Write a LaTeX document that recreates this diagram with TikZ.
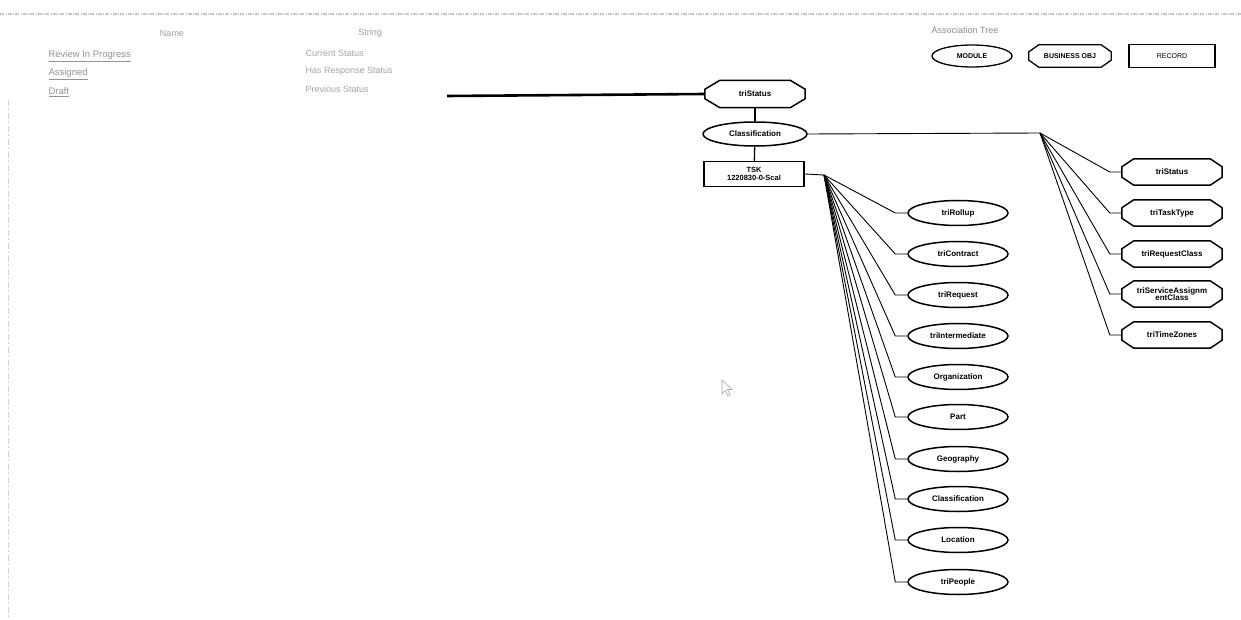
\documentclass[tikz,border=0pt]{standalone}
\usepackage{fontspec}
\setmainfont{Liberation Sans}
\usetikzlibrary{shapes.geometric}
\newcommand\octo[4][1.5pt]{\draw[line width=#1,line join=miter] ([xshift=#3]#2.north west) -- ([xshift=-#3]#2.north east) -- ([yshift=-#4]#2.north east) -- ([yshift=#4]#2.south east) -- ([xshift=-#3]#2.south east) -- ([xshift=#3]#2.south west) -- ([yshift=#4]#2.south west) -- ([yshift=-#4]#2.north west) -- cycle;}
\begin{document}
\begin{tikzpicture}[x=1pt,y=-1pt,
  every node/.style={font=\fontsize{8.5}{9}\selectfont},
  conn/.style={draw=black,line width=0.9pt},
  modnode/.style={ellipse,draw,line width=1.5pt,minimum width=100pt,minimum height=25pt,inner sep=1pt,font=\bfseries\fontsize{8}{8}\selectfont},
  bonode/.style={rectangle,minimum width=100pt,minimum height=26pt,inner sep=1pt,align=center,font=\bfseries\fontsize{8}{7.5}\selectfont},
  recnode/.style={rectangle,draw,line width=1.5pt,minimum width=100pt,minimum height=25pt,inner sep=1pt,align=center,font=\bfseries\fontsize{7.5}{8}\selectfont},
  hdr/.style={text=gray!75,anchor=center,font=\fontsize{9}{10}\selectfont},
  lnk/.style={text=gray!85,anchor=west,font=\fontsize{9.5}{10}\selectfont},
  str/.style={text=gray!70,anchor=west,font=\fontsize{9}{10}\selectfont}]
\useasboundingbox[fill=white] (0,0) rectangle (1241,620);
% page texture
\draw[gray!45,line width=2.2pt,dash pattern=on 4pt off 1.5pt on 1pt off 1pt] (0,14) -- (1241,14);
\draw[gray!35,line width=0.8pt,dash pattern=on 6pt off 2pt on 2pt off 3pt] (8,100) -- (8,620);
% table
\node[hdr] (hname) at (172,33) {Name};
\node[hdr] (hstr) at (370,33) {String};
\node[lnk] (l1) at (45,56) {\underline{Review In Progress}};
\node[lnk] (l2) at (45,74) {\underline{Assigned}};
\node[lnk] (l3) at (45,92) {\underline{Draft}};
\node[str] (s1) at (302,53) {Current Status};
\node[str] (s2) at (302,71) {Has Response Status};
\node[str] (s3) at (302,89) {Previous Status};
% legend
\node[hdr,text=gray!90] (atree) at (965,30) {Association Tree};
\node[modnode,minimum width=80pt,minimum height=22pt,line width=1.3pt,font=\bfseries\fontsize{7}{7}\selectfont] (lmod) at (972,56) {MODULE};
\node[bonode,minimum width=82pt,minimum height=22pt,font=\bfseries\fontsize{7}{7}\selectfont] (lbo) at (1070,56) {BUSINESS OBJ};
\octo[1.3pt]{lbo}{10pt}{7pt}
\node[recnode,minimum width=86pt,minimum height=23pt,line width=1.3pt,font=\fontsize{7}{7}\selectfont] (lrec) at (1172,56) {RECORD};
% main chain
\coordinate (lstart) at (447,96);
\node[bonode,minimum height=27pt] (ts) at (755,94) {triStatus};
\octo{ts}{15pt}{9pt}
\node[modnode,minimum width=104pt,minimum height=24pt] (cls) at (755,134) {Classification};
\node[recnode] (tsk) at (754,174) {TSK\\1220830-0-Scal};
\draw[line width=2.6pt] (lstart) -- (ts.west);
\draw[conn,line width=1.3pt] (ts) -- (cls);
\draw[conn,line width=1.3pt] (cls) -- (tsk);
% right fan
\coordinate (c1) at (1040,133);
\draw[conn] (cls.east) -- (c1);
\foreach \n/\y/\t in {r1/172/triStatus,r2/213/triTaskType,r3/254/triRequestClass,r4/294/{triServiceAssignm\\entClass},r5/335/triTimeZones}{
  \node[bonode] (\n) at (1172,\y) {\t};
  \octo{\n}{12pt}{8pt}
  \draw[conn] (c1) -- ([xshift=-12pt]\n.west) -- (\n.west);
}
% left fan
\coordinate (c2) at (824,175);
\draw[conn] (tsk.east) -- (c2);
\foreach \n/\y/\t in {m1/213/triRollup,m2/254/triContract,m3/295/triRequest,m4/336/triIntermediate,m5/377/Organization,m6/417/Part,m7/459/Geography,m8/499/Classification,m9/540/Location,m10/582/triPeople}{
  \node[modnode] (\n) at (958,\y) {\t};
  \draw[conn] (c2) -- ([xshift=-12pt]\n.west) -- (\n.west);
}
% mouse cursor
\draw[gray!70,line width=0.6pt,fill=white] (722,380) -- (722,394) -- (725.5,390.5) -- (728,396) -- (730,395) -- (727.5,389.5) -- (732,389.5) -- cycle;
\end{tikzpicture}
\end{document}
